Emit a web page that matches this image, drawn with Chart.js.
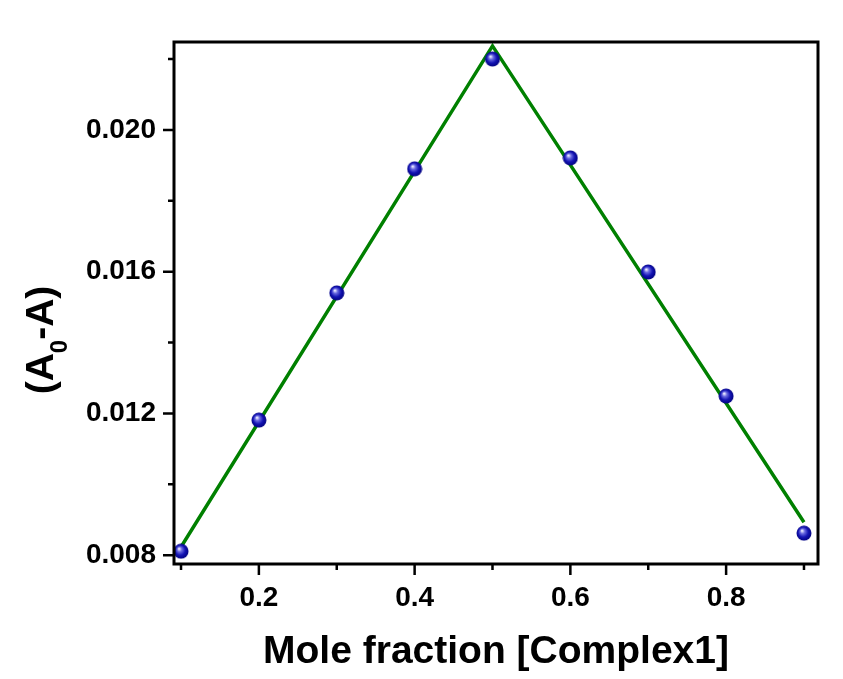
<!DOCTYPE html>
<html>
<head>
<meta charset="utf-8">
<script src="https://cdn.jsdelivr.net/npm/chart.js@4/dist/chart.umd.min.js"></script>
<style>
  html, body { margin: 0; padding: 0; background: #fff; }
  #wrap { width: 843px; height: 679px; }
</style>
</head>
<body>
<div id="wrap"><canvas id="chart-area"></canvas></div>
<script>
var moleFraction = [0.1, 0.2, 0.3, 0.4, 0.5, 0.6, 0.7, 0.8, 0.9];
var absDiff = [0.00811, 0.01181, 0.01540, 0.01890, 0.02200, 0.01921, 0.01599, 0.01249, 0.00862];
var fitX = [0.1, 0.5, 0.9];
var fitY = [0.00823, 0.02237, 0.00893];
var xMajorTicks = [0.2, 0.4, 0.6, 0.8];
var yMajorTicks = [0.008, 0.012, 0.016, 0.020];

var FONT = 'Liberation Sans, Arial, sans-serif';

// shaded blue ball used as point style
var ball = document.createElement('canvas');
ball.width = 16; ball.height = 16;
var bctx = ball.getContext('2d');
var grad = bctx.createRadialGradient(6, 5.5, 0.5, 8, 8, 8);
grad.addColorStop(0, '#e8e8ff');
grad.addColorStop(0.25, '#6a6ae0');
grad.addColorStop(0.6, '#1414b4');
grad.addColorStop(1, '#00007a');
bctx.fillStyle = grad;
bctx.beginPath();
bctx.arc(8, 8, 7.5, 0, Math.PI * 2);
bctx.fill();

var points = moleFraction.map(function(x, i) { return {x: x, y: absDiff[i]}; });
var fit = fitX.map(function(x, i) { return {x: x, y: fitY[i]}; });

// box, outward major/minor ticks and the y title with its subscript
var frame = {
  id: 'frame',
  afterDraw: function(chart) {
    var ctx = chart.ctx, a = chart.chartArea;
    var xs = chart.scales.x, ys = chart.scales.y;
    ctx.save();
    ctx.strokeStyle = '#000';
    ctx.lineWidth = 3;
    ctx.strokeRect(a.left, a.top, a.right - a.left, a.bottom - a.top);
    ctx.lineWidth = 2.5;
    ctx.beginPath();
    for (var v = 1; v <= 9; v++) {
      var px = xs.getPixelForValue(v / 10);
      var len = v % 2 === 0 ? 11 : 6;
      ctx.moveTo(px, a.bottom);
      ctx.lineTo(px, a.bottom + len);
    }
    for (var w = 8; w <= 22; w += 2) {
      var py = ys.getPixelForValue(w / 1000);
      var l2 = w % 4 === 0 ? 11 : 6;
      ctx.moveTo(a.left, py);
      ctx.lineTo(a.left - l2, py);
    }
    ctx.stroke();

    // y axis title: (A0-A) with subscript 0
    var big = 'bold 39px ' + FONT, small = 'bold 24px ' + FONT;
    ctx.font = big;
    var w1 = ctx.measureText('(A').width, w3 = ctx.measureText('-A)').width;
    ctx.font = small;
    var w2 = ctx.measureText('0').width;
    var total = w1 + w2 + w3;
    ctx.translate(a.left - 121, (a.top + a.bottom) / 2 + 37);
    ctx.rotate(-Math.PI / 2);
    ctx.fillStyle = '#000';
    ctx.textBaseline = 'alphabetic';
    ctx.textAlign = 'left';
    var x0 = -total / 2;
    ctx.font = big;
    ctx.fillText('(A', x0, 0);
    ctx.font = small;
    ctx.fillText('0', x0 + w1, 14);
    ctx.font = big;
    ctx.fillText('-A)', x0 + w1 + w2, 0);
    ctx.restore();
  }
};

var config = {
  type: 'scatter',
  data: {
    datasets: [{
      type: 'line',
      data: fit,
      borderColor: '#008000',
      borderWidth: 3.5,
      pointRadius: 0,
      fill: false,
      order: 2
    }, {
      data: points,
      pointStyle: ball,
      pointRadius: 8,
      order: 1
    }]
  },
  options: {
    responsive: true,
    maintainAspectRatio: false,
    animation: false,
    layout: { padding: { top: 42, right: 25, left: 0, bottom: 0 } },
    plugins: { legend: { display: false }, tooltip: { enabled: false } },
    scales: {
      x: {
        type: 'linear',
        min: 0.091,
        max: 0.918,
        afterFit: function(s) { s.height = 115; },
        grid: { display: false, drawTicks: false },
        border: { display: false },
        afterBuildTicks: function(s) { s.ticks = xMajorTicks.map(function(v) { return {value: v}; }); },
        ticks: {
          autoSkip: false, maxRotation: 0, padding: 17, color: '#000',
          font: { family: FONT, size: 28, weight: 'bold' },
          callback: function(v) { return v.toFixed(1); }
        },
        title: {
          display: true, text: 'Mole fraction [Complex1]', color: '#000',
          font: { family: FONT, size: 39, weight: 'bold' },
          padding: { top: 0, bottom: 3 }
        }
      },
      y: {
        min: 0.00775,
        max: 0.02248,
        afterFit: function(s) { s.width = 174; },
        grid: { display: false, drawTicks: false },
        border: { display: false },
        afterBuildTicks: function(s) { s.ticks = yMajorTicks.map(function(v) { return {value: v}; }); },
        ticks: {
          autoSkip: false, padding: 18, color: '#000',
          font: { family: FONT, size: 28, weight: 'bold' },
          callback: function(v) { return v.toFixed(3); }
        },
        title: { display: false, text: '(A0-A)' }
      }
    }
  },
  plugins: [frame]
};

window.onload = function() {
  var ctx = document.getElementById('chart-area').getContext('2d');
  window.myChart = new Chart(ctx, config);
};
</script>
</body>
</html>
